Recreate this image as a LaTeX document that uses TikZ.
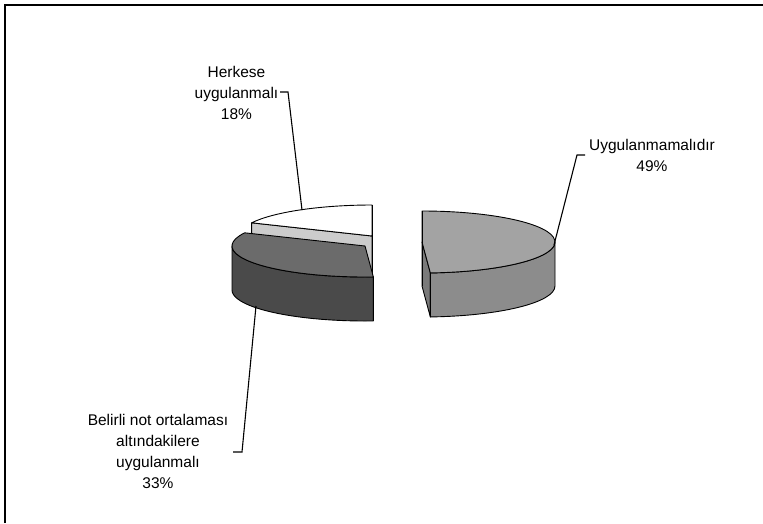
\documentclass[tikz,border=0pt]{standalone}
\usepackage{fontspec}
\setmainfont{Liberation Sans}
\usetikzlibrary{calc}
\begin{document}
\begin{tikzpicture}[x=1pt,y=1pt,
  outline/.style={draw=black, line width=0.9pt, line join=round},
  leader/.style={draw=black, line width=1.1pt, line join=miter},
  lbl/.style={font=\fontsize{15.5}{21}\selectfont, align=center, inner sep=0pt, text=black},
  rtop/.style={outline, fill=black!36},
  rwall/.style={outline, fill=black!45},
  rcut/.style={outline, fill=black!52},
  dtop/.style={outline, fill=black!58},
  dwall/.style={outline, fill=black!71},
  wtop/.style={outline, fill=white},
  wcut/.style={outline, fill=black!20}]
\useasboundingbox (0,0) rectangle (763,-523);
\fill[white] (0,0) rectangle (763,-523);
\draw[line width=2pt] (5,-523) -- (5,-5) -- (763,-5);

% centres of the three slices
\coordinate (W) at (372,-236);
\coordinate (D) at (365,-246);
\coordinate (R) at (422,-242);

% ---- white slice (18%) ----
\draw[wcut] (W) -- ($(W)+(154.8:133 and 31)$) -- ++(0,-44) -- ($(W)+(0,-44)$) -- cycle;
\draw[wtop] (W) -- ($(W)+(90:133 and 31)$) arc[start angle=90, end angle=154.8, x radius=133, y radius=31] -- cycle;
\draw[outline] ($(W)+(90:133 and 31)$) -- ($(W)+(0,-44)$);

% ---- dark slice (33%) ----
\draw[dwall] ($(D)+(180:133 and 31)$) arc[start angle=180, end angle=273.6, x radius=133, y radius=31] -- ++(0,-44) arc[start angle=273.6, end angle=180, x radius=133, y radius=31] -- cycle;
\draw[dtop] (D) -- ($(D)+(154.8:133 and 31)$) arc[start angle=154.8, end angle=273.6, x radius=133, y radius=31] -- cycle;

% ---- right slice (49%) ----
\draw[rcut] (R) -- ($(R)+(-86.4:133 and 31)$) -- ++(0,-44) -- ($(R)+(0,-44)$) -- cycle;
\draw[rwall] ($(R)+(-86.4:133 and 31)$) arc[start angle=-86.4, end angle=0, x radius=133, y radius=31] -- ++(0,-44) arc[start angle=0, end angle=-86.4, x radius=133, y radius=31] -- cycle;
\draw[rtop] (R) -- ($(R)+(-86.4:133 and 31)$) arc[start angle=-86.4, end angle=90, x radius=133, y radius=31] -- cycle;
\draw[outline] ($(R)+(90:133 and 31)$) -- ($(R)+(0,-44)$);

% ---- labels ----
\node[lbl] (hk) at (236.5,-92.5) {Herkese\\uygulanmalı\\18\%};
\node[lbl] (uy) at (652,-155.5) {Uygulanmamalıdır\\49\%};
\node[lbl] (be) at (158,-451.5) {Belirli not ortalaması\\altındakilere\\uygulanmalı\\33\%};

% ---- leaders ----
\coordinate (hkA) at (280,-92);
\coordinate (hkB) at (288,-92);
\coordinate (hkE) at (302,-210);
\draw[leader] (hkA) -- (hkB) -- (hkE);
\coordinate (uyA) at (585,-155);
\coordinate (uyB) at (577,-155);
\coordinate (uyE) at (554,-245);
\draw[leader] (uyA) -- (uyB) -- (uyE);
\coordinate (beA) at (233,-452);
\coordinate (beB) at (242,-452);
\coordinate (beE) at (256,-306);
\draw[leader] (beA) -- (beB) -- (beE);
\end{tikzpicture}
\end{document}
